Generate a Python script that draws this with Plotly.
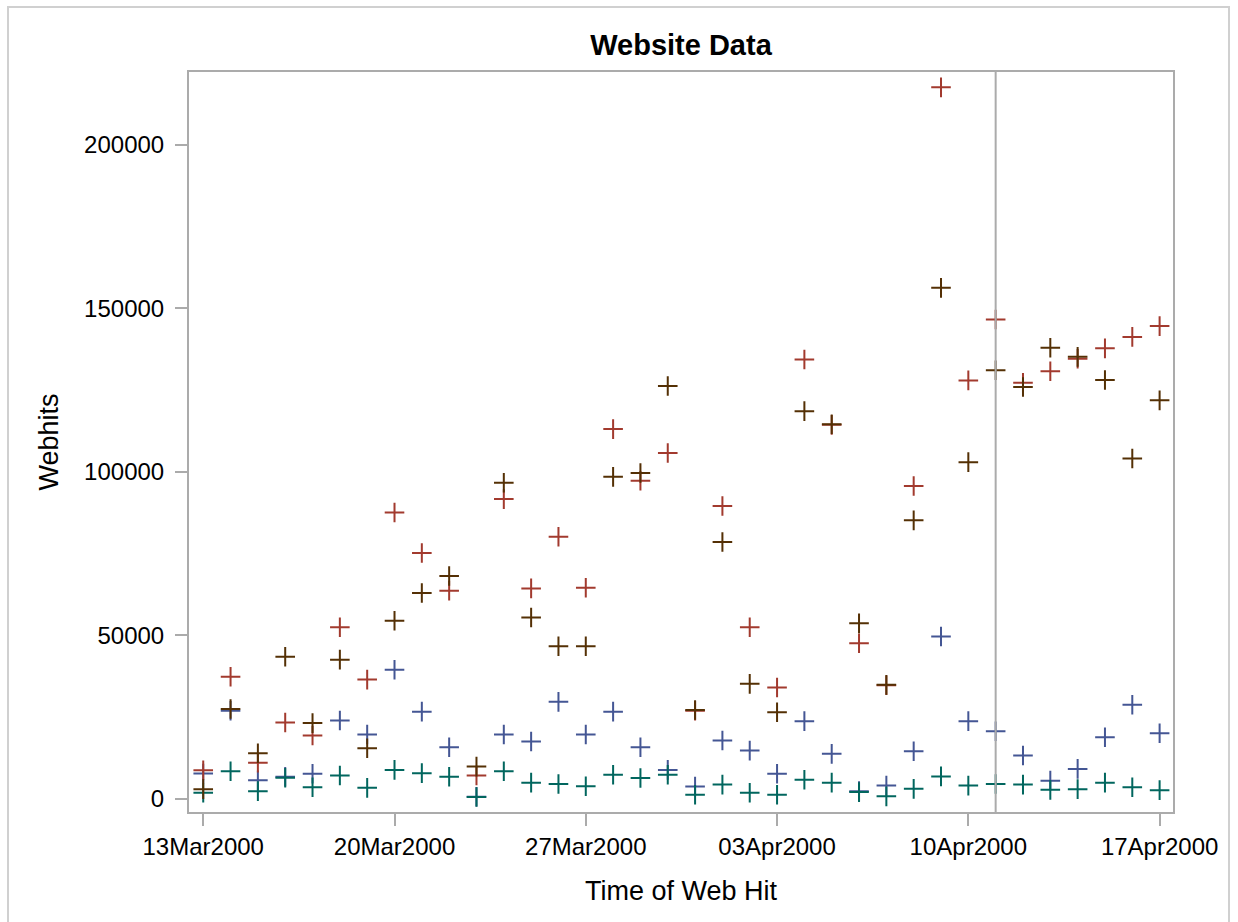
import pandas as pd
import plotly.graph_objects as go

# Daily web hits, 13Mar2000 through 17Apr2000
dates = pd.date_range("2000-03-13", "2000-04-17", freq="D")

boats = [7800, 27000, 5700, 6800, 7700, 24000, 19700, 39500, 26700, 15800,
         700, 19700, 17600, 29700, 19700, 26700, 15800, 8900, 3800, 17900,
         14800, 7700, 23800, 13800, 2400, 4100, 14600, 49700, 23800, 20700,
         13300, 5600, 9200, 18900, 28800, 20100]
cars = [8800, 37400, 11100, 23400, 19400, 52500, 36500, 87600, 75200, 63700,
        7200, 91700, 64400, 80200, 64600, 113100, 97300, 105800, 27000, 89600,
        52500, 34100, 134400, 114400, 47600, 34800, 95700, 217600, 128000, 146600,
        127300, 130800, 134600, 137800, 141300, 144600]
planes = [1900, 8500, 2400, 6500, 3600, 7200, 3400, 8900, 7900, 6800,
          600, 8500, 5000, 4600, 3900, 7400, 6400, 7400, 1300, 4400,
          1900, 1300, 5900, 5000, 2100, 800, 3100, 6900, 4100, 4600,
          4400, 2800, 3000, 5000, 3600, 2700]
engines = [3000, 27500, 14000, 43500, 23200, 42600, 15500, 54500, 63000, 68200,
           9900, 96700, 55500, 46700, 46700, 98500, 99700, 126300, 27200, 78600,
           35200, 26500, 118600, 114600, 53700, 34900, 85200, 156300, 103000, 131100,
           126000, 138000, 135200, 128100, 104100, 121900]

series = [
    ("boats", boats, "#445694"),
    ("cars", cars, "#A23A2E"),
    ("planes", planes, "#01665E"),
    ("engines", engines, "#543005"),
]

refline_date = "2000-04-11"

fig = go.Figure()
for name, values, color in series:
    fig.add_trace(go.Scatter(
        x=dates, y=values, name=name, mode="markers",
        marker=dict(symbol="cross-thin", size=14,
                    line=dict(color=color, width=2), color=color),
        showlegend=False,
    ))

font_family = "Liberation Sans, Arial, sans-serif"
axis_font = dict(family=font_family, size=24, color="#000000")
title_font = dict(family=font_family, size=27, color="#000000")
frame = "#ABABAB"

fig.update_layout(
    width=1238, height=922,
    margin=dict(l=189, r=65, t=72, b=110),
    paper_bgcolor="white", plot_bgcolor="white",
    title=dict(text="<b>Website Data</b>", x=0.5, xref="paper",
               y=1 - 45 / 922, yref="container", yanchor="middle",
               font=dict(family=font_family, size=29, color="#000000")),
    xaxis=dict(
        type="date",
        range=[pd.Timestamp("2000-03-13") - pd.Timedelta(hours=12.5),
               pd.Timestamp("2000-03-13") + pd.Timedelta(days=35.49)],
        tick0="2000-03-13", dtick=7 * 24 * 3600 * 1000, tickformat="%d%b%Y",
        ticks="outside", ticklen=12, tickwidth=2, tickcolor=frame,
        showline=True, linecolor=frame, linewidth=2, mirror=True,
        showgrid=False, zeroline=False, tickfont=axis_font,
        title=dict(text="Time of Web Hit", font=title_font, standoff=22),
    ),
    yaxis=dict(
        range=[-3980, 222300], tick0=0, dtick=50000, tickformat="d",
        ticks="outside", ticklen=12, tickwidth=2, tickcolor=frame,
        showline=True, linecolor=frame, linewidth=2, mirror=True,
        showgrid=False, zeroline=False, tickfont=axis_font,
        ticklabelstandoff=6,
        title=dict(text="Webhits", font=title_font, standoff=18),
    ),
    shapes=[
        dict(type="line", xref="x", yref="paper", x0=refline_date, x1=refline_date,
             y0=0, y1=1, line=dict(color=frame, width=2), layer="above"),
        dict(type="rect", xref="paper", yref="paper",
             x0=(8 - 189) / 984, x1=(1229 - 189) / 984,
             y0=(812 - 935) / 740, y1=(812 - 7) / 740,
             line=dict(color="#D0D0D0", width=2), layer="below"),
    ],
)

fig.write_html("out.html")
